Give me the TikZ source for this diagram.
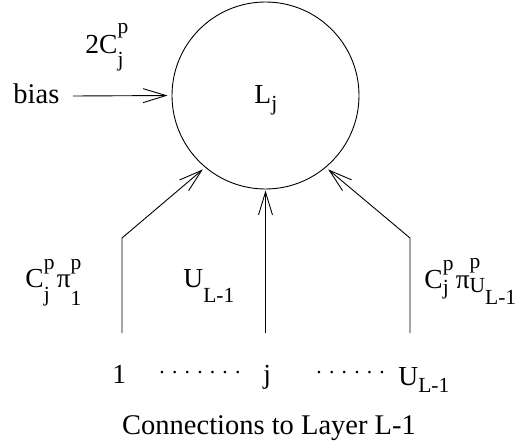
\documentclass[tikz,border=0pt]{standalone}
\usepackage{fontspec}
\setmainfont{Liberation Serif}
\usetikzlibrary{arrows.meta}
\newcommand\smtxt[1]{{\fontsize{21.5}{22}\selectfont #1}}
\newcommand\rz[2]{\raisebox{#1}{\smtxt{#2}}}
\begin{document}
\begin{tikzpicture}[x=1pt,y=-1pt,line width=0.9pt,
  arr/.style={-{Straight Barb[length=23pt,width=14pt]}},
  lbl/.style={inner sep=0pt,anchor=base west,font=\fontsize{27.5}{30}\selectfont},
  big/.style={inner sep=0pt,anchor=base west,font=\fontsize{28.5}{30}\selectfont},
  dots/.style={inner sep=0pt,anchor=base west,font=\fontsize{21.6}{24}\selectfont}]
\useasboundingbox (0,0) rectangle (532,441);
% neuron
\node[draw,circle,minimum size=187pt,inner sep=0pt] (n) at (265.5,95.5) {};
\node[lbl] (Lj) at (254,103) {L\rz{-7pt}{j}};
% bias
\node[big] (bias) at (13,103) {bias};
\node[lbl] (w0) at (85,54) {2C\rlap{\rz{20pt}{p}}\rz{-13pt}{j}};
\coordinate (b0) at (73,96);
\draw[arr,shorten >=4pt] (b0) -- (n.west);
% connections
\coordinate (s1) at (122,333);
\coordinate (k1) at (122,238);
\coordinate (s2) at (265.5,333);
\coordinate (s3) at (410,333);
\coordinate (k3) at (410,238);
\draw[arr,shorten >=3pt] (s1) -- (k1) -- (n.230);
\draw[arr,shorten >=1pt] (s2) -- (n.south);
\draw[arr,shorten >=3pt] (s3) -- (k3) -- (n.310);
% weight labels
\node[lbl] (w1) at (25,287) {C\rlap{\rz{18pt}{p}}\rz{-14pt}{j}\hspace{7pt}π\rlap{\rz{18pt}{p}}\rz{-18pt}{1}};
\node[lbl] (wm) at (183,287) {U\rz{-15pt}{L-1}};
\node[lbl] (w3) at (424,288) {C\rlap{\rz{18pt}{p}}\rz{-6pt}{j}\hspace{7pt}π\rlap{\rz{20pt}{p}}\rz{-4pt}{U}\rz{-16pt}{L-1}};
% layer L-1 units
\node[lbl] (u1) at (112,383) {1};
\node[dots] (d1) at (159,373) {. . . . . . .};
\node[lbl] (uj) at (263,383) {j};
\node[dots] (d2) at (316,373) {. . . . . .};
\node[lbl] (uU) at (398,385) {U\rz{-7pt}{L-1}};
\node[big,anchor=base] (cap) at (269,434) {Connections to Layer L-1};
\end{tikzpicture}
\end{document}
